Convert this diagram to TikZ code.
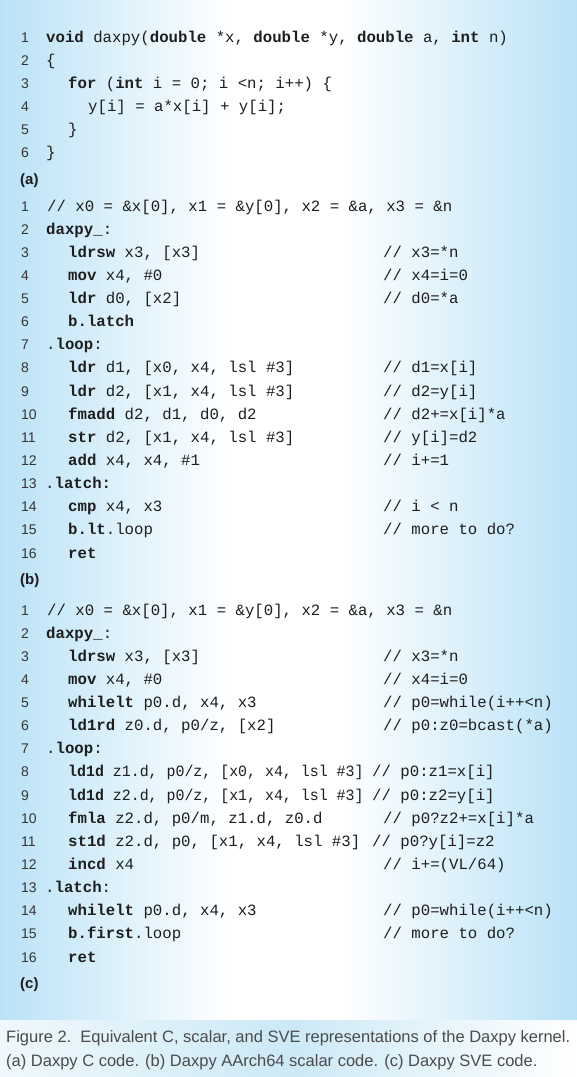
\documentclass[tikz,border=0pt]{standalone}
\usepackage{fontspec}
\newfontfamily\codefont{Liberation Mono}
\newfontfamily\sansf{Liberation Sans}
\definecolor{edgeblue}{RGB}{186,226,246}
\definecolor{capblue}{RGB}{204,233,246}
\definecolor{ink}{RGB}{30,30,30}
\newcommand{\kw}[1]{\textbf{#1}}
\newcommand{\cl}[5]{%
  \node[lnum] (#1n#2) at (21,#3) {#2};
  \node[code] (#1c#2) at (#4,#3) {#5};}
\newcommand{\cm}[4]{%
  \node[code] (#1m#2) at (#3) {#4};}
\begin{document}
\begin{tikzpicture}[x=1pt,y=-1pt,
  lnum/.style={anchor=base west, inner sep=0pt, text=ink!90, font={\sansf\fontsize{14pt}{16pt}\selectfont}},
  code/.style={anchor=base west, inner sep=0pt, text=ink, font={\codefont\fontsize{15.7pt}{18pt}\selectfont}},
  plabel/.style={anchor=base west, inner sep=0pt, text=ink, font={\sansf\bfseries\fontsize{15pt}{17pt}\selectfont}},
  captext/.style={anchor=base west, inner sep=0pt, text=ink!80, font={\sansf\fontsize{16.5pt}{20pt}\selectfont}}]
\useasboundingbox (0,0) rectangle (577,1077);
% background panel
\fill[white] (0,0) rectangle (577,1020);
\shade[left color=edgeblue, right color=white] (0,0) rectangle (230,1020);
\shade[left color=white, right color=edgeblue] (340,0) rectangle (577,1020);
% caption band
\shade[left color=white!70!capblue, right color=capblue] (0,1020) rectangle (290,1077);
\shade[left color=capblue, right color=white] (290,1020) rectangle (577,1077);

% ---------------- (a) ----------------
\cl{a}{1}{42}{46}{\kw{void} daxpy(\kw{double} *x, \kw{double} *y, \kw{double} a, \kw{int} n)}
\cl{a}{2}{65}{46}{\{}
\cl{a}{3}{88}{68}{\kw{for} (\kw{int} i = 0; i <n; i++) \{}
\cl{a}{4}{111}{88}{y[i] = a*x[i] + y[i];}
\cl{a}{5}{134}{68}{\}}
\cl{a}{6}{157}{46}{\}}
\node[plabel] (la) at (20,184) {(a)};

% ---------------- (b) ----------------
\cl{b}{1}{211}{47}{// x0 = \&x[0], x1 = \&y[0], x2 = \&a, x3 = \&n}
\cl{b}{2}{234.1}{46}{\kw{daxpy\_}:}
\cl{b}{3}{257.3}{68}{\kw{ldrsw} x3, [x3]}
\cm{b}{3}{383,257.3}{// x3=*n}
\cl{b}{4}{280.4}{68}{\kw{mov} x4, \#0}
\cm{b}{4}{383,280.4}{// x4=i=0}
\cl{b}{5}{303.5}{68}{\kw{ldr} d0, [x2]}
\cm{b}{5}{383,303.5}{// d0=*a}
\cl{b}{6}{326.7}{68}{\kw{b.latch}}
\cl{b}{7}{349.8}{46}{.\kw{loop}:}
\cl{b}{8}{372.9}{68}{\kw{ldr} d1, [x0, x4, lsl \#3]}
\cm{b}{8}{383,372.9}{// d1=x[i]}
\cl{b}{9}{396.0}{68}{\kw{ldr} d2, [x1, x4, lsl \#3]}
\cm{b}{9}{383,396.0}{// d2=y[i]}
\cl{b}{10}{419.2}{68}{\kw{fmadd} d2, d1, d0, d2}
\cm{b}{10}{383,419.2}{// d2+=x[i]*a}
\cl{b}{11}{442.3}{68}{\kw{str} d2, [x1, x4, lsl \#3]}
\cm{b}{11}{383,442.3}{// y[i]=d2}
\cl{b}{12}{465.4}{68}{\kw{add} x4, x4, \#1}
\cm{b}{12}{383,465.4}{// i+=1}
\cl{b}{13}{488.6}{45}{.\kw{latch:}}
\cl{b}{14}{511.7}{68}{\kw{cmp} x4, x3}
\cm{b}{14}{383,511.7}{// i < n}
\cl{b}{15}{534.8}{68}{\kw{b.lt}.loop}
\cm{b}{15}{383,534.8}{// more to do?}
\cl{b}{16}{558}{68}{\kw{ret}}
\node[plabel] (lb) at (20,584) {(b)};

% ---------------- (c) ----------------
\cl{c}{1}{615}{47}{// x0 = \&x[0], x1 = \&y[0], x2 = \&a, x3 = \&n}
\cl{c}{2}{638.1}{46}{\kw{daxpy\_}:}
\cl{c}{3}{661.3}{68}{\kw{ldrsw} x3, [x3]}
\cm{c}{3}{383,661.3}{// x3=*n}
\cl{c}{4}{684.4}{68}{\kw{mov} x4, \#0}
\cm{c}{4}{383,684.4}{// x4=i=0}
\cl{c}{5}{707.5}{68}{\kw{whilelt} p0.d, x4, x3}
\cm{c}{5}{383,707.5}{// p0=while(i++<n)}
\cl{c}{6}{730.7}{68}{\kw{ld1rd} z0.d, p0/z, [x2]}
\cm{c}{6}{383,730.7}{// p0:z0=bcast(*a)}
\cl{c}{7}{753.8}{46}{.\kw{loop}:}
\cl{c}{8}{776.9}{68}{\scalebox{0.95}[1]{\kw{ld1d} z1.d, p0/z, [x0, x4, lsl \#3]}}
\cm{c}{8}{372,776.9}{// p0:z1=x[i]}
\cl{c}{9}{800.0}{68}{\scalebox{0.95}[1]{\kw{ld1d} z2.d, p0/z, [x1, x4, lsl \#3]}}
\cm{c}{9}{372,800.0}{// p0:z2=y[i]}
\cl{c}{10}{823.2}{68}{\kw{fmla} z2.d, p0/m, z1.d, z0.d}
\cm{c}{10}{383,823.2}{// p0?z2+=x[i]*a}
\cl{c}{11}{846.3}{68}{\kw{st1d} z2.d, p0, [x1, x4, lsl \#3]}
\cm{c}{11}{372,846.3}{// p0?y[i]=z2}
\cl{c}{12}{869.4}{68}{\kw{incd} x4}
\cm{c}{12}{383,869.4}{// i+=(VL/64)}
\cl{c}{13}{892.6}{45}{.\kw{latch}:}
\cl{c}{14}{915.7}{68}{\kw{whilelt} p0.d, x4, x3}
\cm{c}{14}{383,915.7}{// p0=while(i++<n)}
\cl{c}{15}{938.8}{68}{\kw{b.first}.loop}
\cm{c}{15}{383,938.8}{// more to do?}
\cl{c}{16}{962}{68}{\kw{ret}}
\node[plabel] (lc) at (20,988) {(c)};

% ---------------- caption ----------------
\node[captext] (cap1) at (6,1042) {Figure 2.\ \ Equivalent C, scalar, and SVE representations of the Daxpy kernel.};
\node[captext] (cap2) at (6,1066) {(a) Daxpy C code. (b) Daxpy AArch64 scalar code. (c) Daxpy SVE code.};
\end{tikzpicture}
\end{document}
